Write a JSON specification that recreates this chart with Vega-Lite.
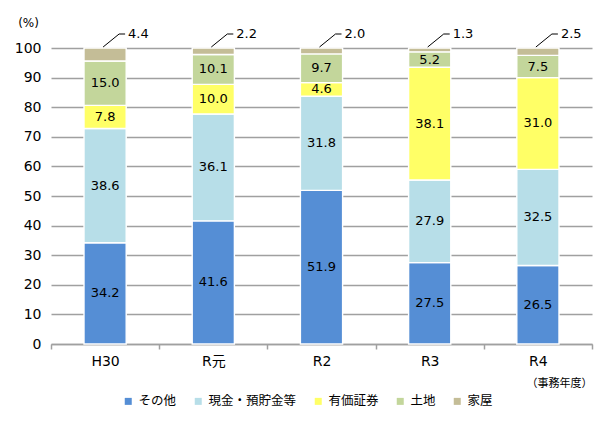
{
  "$schema": "https://vega.github.io/schema/vega-lite/v6.json",
  "width": 541,
  "height": 296,
  "autosize": "none",
  "padding": {"left": 51, "top": 48, "right": 8, "bottom": 86},
  "background": "white",
  "config": {
    "view": {"stroke": null},
    "font": "DejaVu Sans",
    "axis": {"labelColor": "#000000", "titleColor": "#000000"},
    "axisY": {
      "tickCount": 10,
      "labelOverlap": false,
      "domain": false,
      "ticks": false,
      "grid": true,
      "gridColor": "#A0A0A0",
      "gridWidth": 1.5,
      "labelFontSize": 14,
      "labelPadding": 10
    }
  },
  "data": {
    "values": [
      {"year": "H30", "type": "その他", "v": 34.2},
      {"year": "H30", "type": "現金・預貯金等", "v": 38.6},
      {"year": "H30", "type": "有価証券", "v": 7.8},
      {"year": "H30", "type": "土地", "v": 15.0},
      {"year": "H30", "type": "家屋", "v": 4.4},
      {"year": "R元", "type": "その他", "v": 41.6},
      {"year": "R元", "type": "現金・預貯金等", "v": 36.1},
      {"year": "R元", "type": "有価証券", "v": 10.0},
      {"year": "R元", "type": "土地", "v": 10.1},
      {"year": "R元", "type": "家屋", "v": 2.2},
      {"year": "R2", "type": "その他", "v": 51.9},
      {"year": "R2", "type": "現金・預貯金等", "v": 31.8},
      {"year": "R2", "type": "有価証券", "v": 4.6},
      {"year": "R2", "type": "土地", "v": 9.7},
      {"year": "R2", "type": "家屋", "v": 2.0},
      {"year": "R3", "type": "その他", "v": 27.5},
      {"year": "R3", "type": "現金・預貯金等", "v": 27.9},
      {"year": "R3", "type": "有価証券", "v": 38.1},
      {"year": "R3", "type": "土地", "v": 5.2},
      {"year": "R3", "type": "家屋", "v": 1.3},
      {"year": "R4", "type": "その他", "v": 26.5},
      {"year": "R4", "type": "現金・預貯金等", "v": 32.5},
      {"year": "R4", "type": "有価証券", "v": 31.0},
      {"year": "R4", "type": "土地", "v": 7.5},
      {"year": "R4", "type": "家屋", "v": 2.5}
    ]
  },
  "transform": [
    {"calculate": "indexof(['その他','現金・預貯金等','有価証券','土地','家屋'], datum.type)", "as": "k"},
    {"stack": "v", "groupby": ["year"], "sort": [{"field": "k", "order": "ascending"}], "as": ["y0", "y1"]},
    {"calculate": "(datum.y0 + datum.y1) / 2", "as": "mid"}
  ],
  "encoding": {
    "x": {
      "field": "year",
      "type": "nominal",
      "sort": ["H30", "R元", "R2", "R3", "R4"],
      "scale": {"paddingInner": 0, "paddingOuter": 0},
      "axis": {
        "title": "（事務年度）",
        "titleAnchor": "end",
        "titleFont": "Noto Sans CJK JP",
        "titleFontSize": 11,
        "titleFontWeight": "normal",
        "titlePadding": 9,
        "labelAngle": 0,
        "labelFont": "DejaVu Sans, Noto Sans CJK JP",
        "labelFontSize": 14,
        "labelPadding": 5,
        "tickBand": "extent",
        "tickSize": 5,
        "tickColor": "#A0A0A0",
        "tickWidth": 1.5,
        "domainColor": "#A0A0A0",
        "domainWidth": 1.5,
        "grid": false
      }
    }
  },
  "layer": [
    {
      "mark": {"type": "bar", "width": {"band": 0.39}, "stroke": "white", "strokeWidth": 1.4},
      "encoding": {
        "y": {
          "field": "y0",
          "type": "quantitative",
          "scale": {"domain": [0, 100]},
          "axis": {
            "title": "(%)",
            "titleAngle": 0,
            "titleX": -23,
            "titleY": -26,
            "titleAlign": "center",
            "titleBaseline": "middle",
            "titleFontSize": 12,
            "titleFontWeight": "normal"
          }
        },
        "y2": {"field": "y1"},
        "color": {
          "field": "type",
          "type": "nominal",
          "sort": ["その他", "現金・預貯金等", "有価証券", "土地", "家屋"],
          "scale": {
            "domain": ["その他", "現金・預貯金等", "有価証券", "土地", "家屋"],
            "range": ["#558ED5", "#B7DEE8", "#FFFF66", "#C3D69B", "#C4BD97"]
          },
          "legend": {
            "orient": "none",
            "legendX": 71,
            "legendY": 347,
            "direction": "horizontal",
            "title": null,
            "symbolType": "square",
            "symbolSize": 49,
            "symbolStrokeWidth": 0,
            "labelFont": "Noto Sans CJK JP",
            "labelFontSize": 12.5,
            "labelColor": "#000000",
            "labelOffset": 4,
            "columnPadding": 15
          }
        }
      }
    },
    {
      "transform": [{"filter": "datum.type !== '家屋'"}],
      "mark": {"type": "text", "fontSize": 13, "color": "#000000", "baseline": "middle"},
      "encoding": {
        "y": {"field": "mid", "type": "quantitative"},
        "text": {"field": "v", "type": "quantitative", "format": ".1f"}
      }
    },
    {
      "transform": [{"filter": "datum.type === '家屋'"}],
      "mark": {"type": "rule", "color": "#000000", "strokeWidth": 1, "xOffset": -2, "x2Offset": 14, "yOffset": -1, "y2Offset": -14},
      "encoding": {
        "x2": {"field": "year"},
        "y": {"datum": 100, "type": "quantitative"},
        "y2": {"datum": 100}
      }
    },
    {
      "transform": [{"filter": "datum.type === '家屋'"}],
      "mark": {"type": "rule", "color": "#000000", "strokeWidth": 1, "xOffset": 14, "x2Offset": 20, "yOffset": -14, "y2Offset": -14},
      "encoding": {
        "x2": {"field": "year"},
        "y": {"datum": 100, "type": "quantitative"},
        "y2": {"datum": 100}
      }
    },
    {
      "transform": [{"filter": "datum.type === '家屋'"}],
      "mark": {"type": "text", "fontSize": 13, "color": "#000000", "align": "left", "baseline": "middle", "dx": 23, "yOffset": -14},
      "encoding": {
        "y": {"datum": 100, "type": "quantitative"},
        "text": {"field": "v", "type": "quantitative", "format": ".1f"}
      }
    }
  ]
}
